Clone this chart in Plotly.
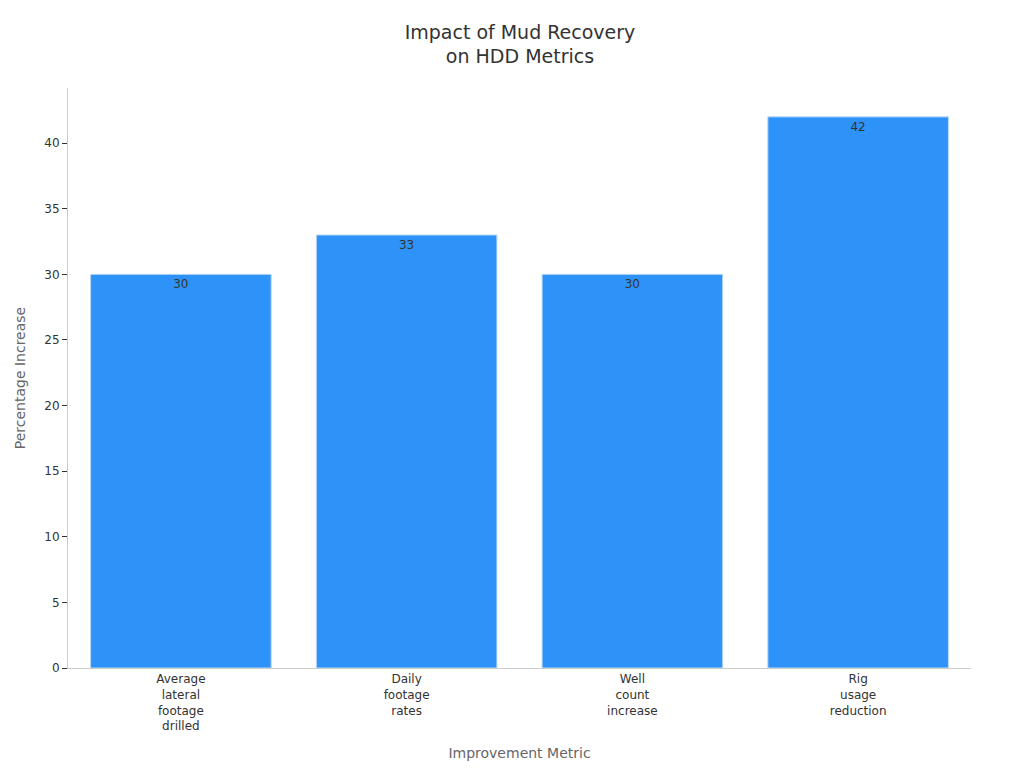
import plotly.graph_objects as go

categories = ["Average<br>lateral<br>footage<br>drilled", "Daily<br>footage<br>rates",
              "Well<br>count<br>increase", "Rig<br>usage<br>reduction"]
values = [30, 33, 30, 42]

fig = go.Figure(go.Bar(
    x=categories, y=values, text=values, textposition="inside",
    insidetextanchor="end", textfont=dict(color="#333333", size=12),
    marker=dict(color="#2E93F8", line=dict(color="#BBD8F5", width=1)),
    width=0.8,
))
fig.update_layout(
    width=1024, height=768,
    margin=dict(l=60, r=61, t=80, b=108),
    plot_bgcolor="white", paper_bgcolor="white",
    font=dict(family="DejaVu Sans", color="#333333"),
    title=dict(text="Impact of Mud Recovery<br>on HDD Metrics", x=0.5, xanchor="center",
               y=0.96, font=dict(size=19, color="#333333")),
    showlegend=False,
)
fig.update_xaxes(title=dict(text="Improvement Metric", font=dict(size=14, color="#666666")),
                 showline=True, linecolor="#CCCCCC", tickfont=dict(size=12), ticks="")
fig.update_yaxes(title=dict(text="Percentage Increase", font=dict(size=14, color="#666666")),
                 range=[0, 44.2], dtick=5, showgrid=False, showline=True, linecolor="#CCCCCC",
                 ticks="outside", ticklen=5, tickcolor="#333333", tickfont=dict(size=12), zeroline=False)
fig.write_html("out.html")
